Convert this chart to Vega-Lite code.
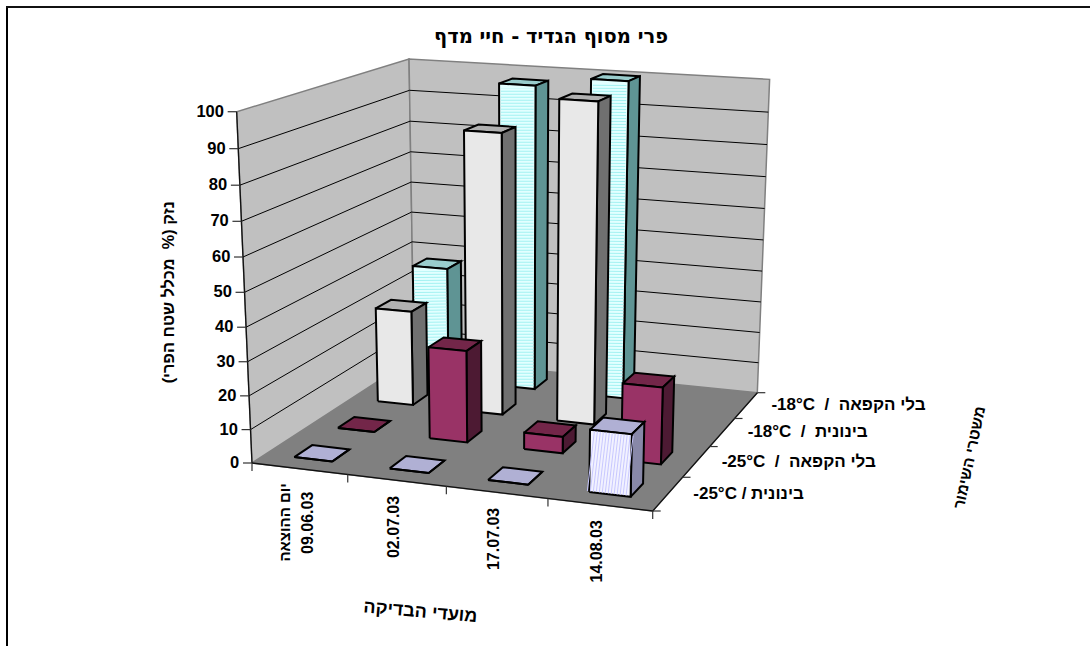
{
"$schema":"https://vega.github.io/schema/vega-lite/v6.json",
"width":1090,"height":646,"autosize":"none","padding":0,"background":"white",
"config":{"view":{"stroke":null},"text":{"font":"Liberation Sans","fontWeight":"bold"}},
"title":{"text":"פרי מסוף הגדיד - חיי מדף","font":"DejaVu Sans","fontSize":19.5,"fontWeight":"bold","color":"#000","anchor":"middle","frame":"group","dx":6,"dy":47,"offset":0},
"datasets":{
"bars":[
{"date":"09.06.03","regime":"-18°C \u00a0/\u00a0 בלי הקפאה","value":37},
{"date":"02.07.03","regime":"-18°C \u00a0/\u00a0 בלי הקפאה","value":97},
{"date":"17.07.03","regime":"-18°C \u00a0/\u00a0 בלי הקפאה","value":100},
{"date":"09.06.03","regime":"-18°C \u00a0/\u00a0 בינונית","value":30},
{"date":"02.07.03","regime":"-18°C \u00a0/\u00a0 בינונית","value":87},
{"date":"17.07.03","regime":"-18°C \u00a0/\u00a0 בינונית","value":98},
{"date":"09.06.03","regime":"-25°C \u00a0/\u00a0 בלי הקפאה","value":0},
{"date":"02.07.03","regime":"-25°C \u00a0/\u00a0 בלי הקפאה","value":28},
{"date":"17.07.03","regime":"-25°C \u00a0/\u00a0 בלי הקפאה","value":5},
{"date":"14.08.03","regime":"-25°C \u00a0/\u00a0 בלי הקפאה","value":23},
{"date":"09.06.03","regime":"-25°C / בינונית","value":0},
{"date":"02.07.03","regime":"-25°C / בינונית","value":0},
{"date":"17.07.03","regime":"-25°C / בינונית","value":0},
{"date":"14.08.03","regime":"-25°C / בינונית","value":18}
],
"valueTicks":[{"value":0},{"value":10},{"value":20},{"value":30},{"value":40},{"value":50},{"value":60},{"value":70},{"value":80},{"value":90},{"value":100}],
"dates":[{"date":"09.06.03","n":0},{"date":"02.07.03","n":1},{"date":"17.07.03","n":2},{"date":"14.08.03","n":3}],
"regimes":[{"regime":"-25°C / בינונית","n":0},{"regime":"-25°C \u00a0/\u00a0 בלי הקפאה","n":1},{"regime":"-18°C \u00a0/\u00a0 בינונית","n":2},{"regime":"-18°C \u00a0/\u00a0 בלי הקפאה","n":3}],
"boundaries":[{"n":0},{"n":1},{"n":2},{"n":3},{"n":4}]
},
"data":{"name":"bars"},
"transform":[
{"calculate":"indexof(['09.06.03','02.07.03','17.07.03','14.08.03'],datum.date)","as":"i"},
{"calculate":"indexof(['-25°C / בינונית','-25°C \u00a0/\u00a0 בלי הקפאה','-18°C \u00a0/\u00a0 בינונית','-18°C \u00a0/\u00a0 בלי הקפאה'],datum.regime)","as":"j"},
{"calculate":"(datum.i+0.5)/4-0.05","as":"u0"},
{"calculate":"(datum.i+0.5)/4+0.05","as":"u1"},
{"calculate":"(datum.j+0.5)/4-0.05","as":"v0"},
{"calculate":"(datum.j+0.5)/4+0.05","as":"v1"},
{"calculate":"datum.value/100","as":"h"},
{"calculate":"['top','side','front']","as":"face"},
{"flatten":["face"]},
{"calculate":"[0,1,2,3,4]","as":"k"},
{"flatten":["k"]},
{"calculate":"datum.face=='side'?datum.u1:((datum.k==1||datum.k==2)?datum.u1:datum.u0)","as":"vu"},
{"calculate":"datum.face=='front'?datum.v0:(datum.face=='side'?((datum.k==1||datum.k==2)?datum.v1:datum.v0):((datum.k==2||datum.k==3)?datum.v1:datum.v0))","as":"vv"},
{"calculate":"datum.face=='top'?datum.h:((datum.k==2||datum.k==3)?datum.h:0)","as":"vw"},
{"calculate":"(362.73*datum.vu+238.56*datum.vv-28.3*datum.vw+252)/(1-0.05818*datum.vu+0.18493*datum.vv-0.0548*datum.vw)","as":"sx"},
{"calculate":"(18.27*datum.vu-38.8*datum.vv-357.4*datum.vw+463)/(1-0.05818*datum.vu+0.18493*datum.vv-0.0548*datum.vw)","as":"sy"},
{"calculate":"datum.j+'-'+datum.face","as":"paint"}
],
"encoding":{
"x":{"field":"sx","type":"quantitative","scale":{"domain":[0,1090],"nice":false,"zero":false},"axis":null},
"y":{"field":"sy","type":"quantitative","scale":{"domain":[646,0],"nice":false,"zero":false},"axis":null},
"fill":{"field":"paint","type":"nominal","legend":null,"scale":{"domain":["3-front","3-side","3-top","2-front","2-side","2-top","1-front","1-side","1-top","0-front","0-side","0-top","floor","left wall","back wall"],"range":["#e2ffff","#5f9494","#99cccc","#e8e8e8","#707070","#b0b0b0","#993366","#4d1a33","#732649","#f2f2ff","#8888a8","#b0b0d4","#808080","#c0c0c0","#c0c0c0"]}}
},
"layer":[
{"data":{"values":[{"edge":"left"}]},
 "transform":[{"calculate":"7","as":"sx"},{"calculate":"6","as":"sy"},{"calculate":"646","as":"ty"}],
 "mark":{"type":"rule","stroke":"#000","strokeWidth":2},
 "encoding":{"fill":{"value":null},"y2":{"field":"ty"}}},
{"data":{"values":[{"edge":"top"}]},
 "transform":[{"calculate":"6","as":"sx"},{"calculate":"7","as":"sy"},{"calculate":"1090","as":"tx"}],
 "mark":{"type":"rule","stroke":"#111","strokeWidth":2},
 "encoding":{"fill":{"value":null},"x2":{"field":"tx"}}},
{"data":{"values":[{"paint":"floor"},{"paint":"left wall"},{"paint":"back wall"}]},
 "transform":[
 {"calculate":"[0,1,2,3,4]","as":"k"},{"flatten":["k"]},
 {"calculate":"datum.paint=='left wall'?0:[0,1,1,0,0][datum.k]","as":"vu"},
 {"calculate":"datum.paint=='back wall'?1:(datum.paint=='floor'?[0,0,1,1,0][datum.k]:[0,1,1,0,0][datum.k])","as":"vv"},
 {"calculate":"datum.paint=='floor'?0:[0,0,1,1,0][datum.k]","as":"vw"},
 {"calculate":"(362.73*datum.vu+238.56*datum.vv-28.3*datum.vw+252)/(1-0.05818*datum.vu+0.18493*datum.vv-0.0548*datum.vw)","as":"sx"},
 {"calculate":"(18.27*datum.vu-38.8*datum.vv-357.4*datum.vw+463)/(1-0.05818*datum.vu+0.18493*datum.vv-0.0548*datum.vw)","as":"sy"}],
 "mark":{"type":"line","stroke":"#808080","strokeWidth":1.5},
 "encoding":{"order":{"field":"k"}}},
{"data":{"name":"valueTicks"},
 "transform":[
 {"filter":"datum.value>0&&datum.value<100"},
 {"calculate":"[0,1,2]","as":"k"},{"flatten":["k"]},
 {"calculate":"datum.k==2?1:0","as":"vu"},
 {"calculate":"datum.k==0?0:1","as":"vv"},
 {"calculate":"datum.value/100","as":"vw"},
 {"calculate":"(362.73*datum.vu+238.56*datum.vv-28.3*datum.vw+252)/(1-0.05818*datum.vu+0.18493*datum.vv-0.0548*datum.vw)","as":"sx"},
 {"calculate":"(18.27*datum.vu-38.8*datum.vv-357.4*datum.vw+463)/(1-0.05818*datum.vu+0.18493*datum.vv-0.0548*datum.vw)","as":"sy"}],
 "mark":{"type":"line","stroke":"#000","strokeWidth":1},
 "encoding":{"fill":{"value":null},"order":{"field":"k"},"detail":{"field":"value"}}},
{"data":{"values":[{"edge":"value"},{"edge":"floor"}]},
 "transform":[
 {"calculate":"[0,1,2]","as":"k"},{"flatten":["k"]},
 {"calculate":"datum.edge=='value'?0:[0,1,1][datum.k]","as":"vu"},
 {"calculate":"datum.edge=='value'?0:[0,0,1][datum.k]","as":"vv"},
 {"calculate":"datum.edge=='value'?[0,1,1][datum.k]:0","as":"vw"},
 {"calculate":"(362.73*datum.vu+238.56*datum.vv-28.3*datum.vw+252)/(1-0.05818*datum.vu+0.18493*datum.vv-0.0548*datum.vw)","as":"sx"},
 {"calculate":"(18.27*datum.vu-38.8*datum.vv-357.4*datum.vw+463)/(1-0.05818*datum.vu+0.18493*datum.vv-0.0548*datum.vw)","as":"sy"}],
 "mark":{"type":"line","stroke":"#111","strokeWidth":1.3},
 "encoding":{"fill":{"value":null},"order":{"field":"k"},"detail":{"field":"edge"}}},
{"data":{"name":"valueTicks"},
 "transform":[
 {"calculate":"(-28.3*datum.value/100+252)/(1-0.0548*datum.value/100)","as":"sx"},
 {"calculate":"(-357.4*datum.value/100+463)/(1-0.0548*datum.value/100)","as":"sy"},
 {"calculate":"datum.sx-9","as":"tx"}],
 "mark":{"type":"rule","stroke":"#333","strokeWidth":1.2},
 "encoding":{"fill":{"value":null},"x2":{"field":"tx"}}},
{"data":{"name":"valueTicks"},
 "transform":[
 {"calculate":"(-28.3*datum.value/100+252)/(1-0.0548*datum.value/100)-12.7","as":"sx"},
 {"calculate":"(-357.4*datum.value/100+463)/(1-0.0548*datum.value/100)","as":"sy"}],
 "mark":{"type":"text","align":"right","baseline":"middle","fontSize":16.5},
 "encoding":{"fill":{"value":"#000"},"text":{"field":"value","type":"quantitative"}}},
{"data":{"name":"boundaries"},
 "transform":[
 {"calculate":"datum.n/4","as":"vu"},
 {"calculate":"(362.73*datum.vu+252)/(1-0.05818*datum.vu)","as":"sx"},
 {"calculate":"(18.27*datum.vu+463)/(1-0.05818*datum.vu)","as":"sy"},
 {"calculate":"datum.sy+8","as":"ty"}],
 "mark":{"type":"rule","stroke":"#333","strokeWidth":1.2},
 "encoding":{"fill":{"value":null},"y2":{"field":"ty"}}},
{"data":{"name":"boundaries"},
 "transform":[
 {"calculate":"datum.n/4","as":"vv"},
 {"calculate":"(362.73+238.56*datum.vv+252)/(1-0.05818+0.18493*datum.vv)","as":"sx"},
 {"calculate":"(18.27-38.8*datum.vv+463)/(1-0.05818+0.18493*datum.vv)","as":"sy"},
 {"calculate":"datum.sx+8","as":"tx"}],
 "mark":{"type":"rule","stroke":"#333","strokeWidth":1.2},
 "encoding":{"fill":{"value":null},"x2":{"field":"tx"}}},
{"data":{"name":"dates"},
 "transform":[
 {"calculate":"(datum.n+0.5)/4","as":"vu"},
 {"calculate":"(362.73*datum.vu+252)/(1-0.05818*datum.vu)+(datum.n==0?8.5:-3)","as":"sx"},
 {"calculate":"(18.27*datum.vu+463)/(1-0.05818*datum.vu)+(datum.n==0?23:15.5)","as":"sy"}],
 "mark":{"type":"text","angle":270,"align":"right","baseline":"middle","fontSize":16},
 "encoding":{"fill":{"value":"#000"},"text":{"field":"date","type":"nominal"}}},
{"data":{"values":[{"label":"יום ההוצאה"}]},
 "transform":[
 {"calculate":"(362.73*0.125+252)/(1-0.05818*0.125)-14.5","as":"sx"},
 {"calculate":"(18.27*0.125+463)/(1-0.05818*0.125)+14.5","as":"sy"}],
 "mark":{"type":"text","angle":270,"align":"right","baseline":"middle","fontSize":15},
 "encoding":{"fill":{"value":"#000"},"text":{"field":"label","type":"nominal"}}},
{"data":{"name":"regimes"},
 "transform":[
 {"calculate":"(datum.n+0.5)/4","as":"vv"},
 {"calculate":"(362.73+238.56*datum.vv+252)/(1-0.05818+0.18493*datum.vv)+25.3","as":"sx"},
 {"calculate":"(18.27-38.8*datum.vv+463)/(1-0.05818+0.18493*datum.vv)","as":"sy"}],
 "mark":{"type":"text","align":"left","baseline":"middle","fontSize":17},
 "encoding":{"fill":{"value":"#000"},"text":{"field":"regime","type":"nominal"}}},
{"data":{"values":[{"label":"נזק (% \u00a0מכלל שטח הפרי)"}]},
 "transform":[
 {"calculate":"(252-14.15)/0.9726-76","as":"sx"},
 {"calculate":"(463-178.7)/0.9726","as":"sy"}],
 "mark":{"type":"text","angle":270,"align":"center","baseline":"middle","fontSize":16.3},
 "encoding":{"fill":{"value":"#000"},"text":{"field":"label","type":"nominal"}}},
{"data":{"values":[{"label":"משטרי השימור"}]},
 "transform":[
 {"calculate":"(362.73+119.28+252)/1.0343+260","as":"sx"},
 {"calculate":"(18.27-19.4+463)/1.0343+11","as":"sy"}],
 "mark":{"type":"text","angle":282,"align":"center","baseline":"middle","fontSize":15.5},
 "encoding":{"fill":{"value":"#000"},"text":{"field":"label","type":"nominal"}}},
{"data":{"values":[{"label":"מועדי הבדיקה"}]},
 "transform":[
 {"calculate":"(181.37+252)/0.9709-26","as":"sx"},
 {"calculate":"(9.13+463)/0.9709+126","as":"sy"}],
 "mark":{"type":"text","angle":5,"align":"center","baseline":"middle","fontSize":18},
 "encoding":{"fill":{"value":"#000"},"text":{"field":"label","type":"nominal"}}},
{"transform":[{"filter":"datum.j==3"}],
 "mark":{"type":"line","stroke":"#000","strokeWidth":2},
 "encoding":{"order":{"field":"k"},"detail":{"field":"date"}}},
{"transform":[
 {"filter":"datum.j==3&&datum.face=='front'&&datum.k==0"},
 {"calculate":"(datum.u0+datum.u1)/2","as":"um"},
 {"calculate":"(362.73*datum.um+238.56*datum.v0-28.3*0.005+252)/(1-0.05818*datum.um+0.18493*datum.v0-0.0548*0.005)","as":"sx"},
 {"calculate":"(18.27*datum.um-38.8*datum.v0-357.4*0.005+463)/(1-0.05818*datum.um+0.18493*datum.v0-0.0548*0.005)","as":"sy"},
 {"calculate":"(362.73*datum.um+238.56*datum.v0-28.3*(datum.h-0.012)+252)/(1-0.05818*datum.um+0.18493*datum.v0-0.0548*(datum.h-0.012))","as":"tx"},
 {"calculate":"(18.27*datum.um-38.8*datum.v0-357.4*(datum.h-0.012)+463)/(1-0.05818*datum.um+0.18493*datum.v0-0.0548*(datum.h-0.012))","as":"ty"},
 {"calculate":"(362.73*datum.u1+238.56*datum.v0+252)/(1-0.05818*datum.u1+0.18493*datum.v0)-(362.73*datum.u0+238.56*datum.v0+252)/(1-0.05818*datum.u0+0.18493*datum.v0)-2","as":"bandwidth"}],
 "mark":{"type":"rule","stroke":"#a4f2f2","strokeDash":[1,2],"strokeCap":"butt"},
 "encoding":{"fill":{"value":null},"x2":{"field":"tx"},"y2":{"field":"ty"},"size":{"field":"bandwidth","type":"quantitative","scale":null,"legend":null}}},
{"transform":[{"filter":"datum.j==2"}],
 "mark":{"type":"line","stroke":"#000","strokeWidth":2},
 "encoding":{"order":{"field":"k"},"detail":{"field":"date"}}},
{"transform":[{"filter":"datum.j==1"}],
 "mark":{"type":"line","stroke":"#000","strokeWidth":2},
 "encoding":{"order":{"field":"k"},"detail":{"field":"date"}}},
{"transform":[{"filter":"datum.j==0"}],
 "mark":{"type":"line","stroke":"#000","strokeWidth":2},
 "encoding":{"order":{"field":"k"},"detail":{"field":"date"}}},
{"transform":[
 {"filter":"datum.j==0&&datum.value>0&&datum.face=='front'&&datum.k==0"},
 {"calculate":"datum.h/2","as":"wm"},
 {"calculate":"(362.73*(datum.u0+0.002)+238.56*datum.v0-28.3*datum.wm+252)/(1-0.05818*datum.u0+0.18493*datum.v0-0.0548*datum.wm)","as":"sx"},
 {"calculate":"(18.27*datum.u0-38.8*datum.v0-357.4*datum.wm+463)/(1-0.05818*datum.u0+0.18493*datum.v0-0.0548*datum.wm)","as":"sy"},
 {"calculate":"(362.73*(datum.u1-0.002)+238.56*datum.v0-28.3*datum.wm+252)/(1-0.05818*datum.u1+0.18493*datum.v0-0.0548*datum.wm)","as":"tx"},
 {"calculate":"(18.27*datum.u1-38.8*datum.v0-357.4*datum.wm+463)/(1-0.05818*datum.u1+0.18493*datum.v0-0.0548*datum.wm)","as":"ty"},
 {"calculate":"(18.27*datum.u0-38.8*datum.v0+463)/(1-0.05818*datum.u0+0.18493*datum.v0)-(18.27*datum.u0-38.8*datum.v0-357.4*datum.h+463)/(1-0.05818*datum.u0+0.18493*datum.v0-0.0548*datum.h)-2","as":"bandwidth"}],
 "mark":{"type":"rule","stroke":"#c8c8ff","strokeDash":[1,2],"strokeCap":"butt"},
 "encoding":{"fill":{"value":null},"x2":{"field":"tx"},"y2":{"field":"ty"},"size":{"field":"bandwidth","type":"quantitative","scale":null,"legend":null}}}
]
}
